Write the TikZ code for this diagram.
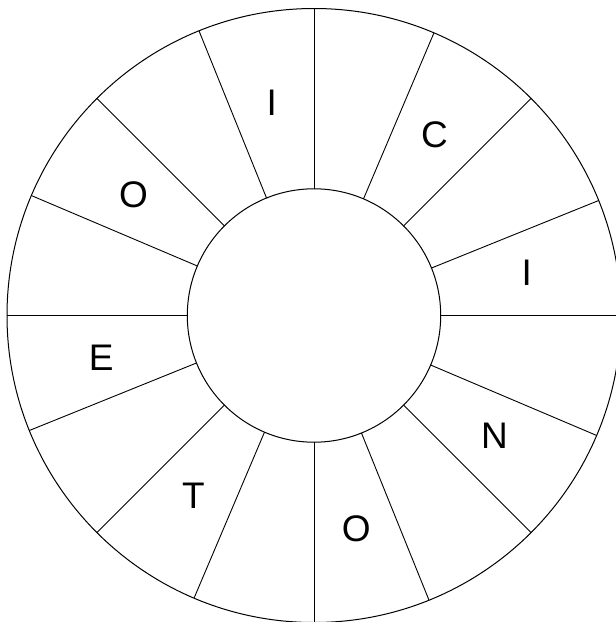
\documentclass[tikz,border=0pt]{standalone}
\usepackage{fontspec}
\setmainfont{Liberation Sans}
\usetikzlibrary{calc}
\begin{document}
\begin{tikzpicture}[x=1pt,y=1pt,
  ring/.style={circle,draw=black,line width=1pt,inner sep=0pt,outer sep=0pt},
  spoke/.style={draw=black,line width=0.9pt},
  letter/.style={inner sep=0pt,font=\fontsize{37}{40}\selectfont}]
\useasboundingbox (0,0) rectangle (616,-622);
\fill[white] (0,0) rectangle (616,-622);
\node[ring,minimum size=614pt] (outer) at (314,-315.5) {};
\node[ring,minimum size=253.4pt] (inner) at (314,-315.5) {};
\foreach \k in {0,...,15} {
  \pgfmathsetmacro{\a}{\k*22.5}
  \draw[spoke] (inner.\a) -- (outer.\a);
}
\foreach \t/\ang [count=\i] in {I/101.25, C/56.25, I/11.25, N/-33.75, O/-78.75, T/-123.75, E/-168.75, O/146.25} {
  \node[letter] (l\i) at ($(314,-315.5)+(\ang:217)$) {\t};
}
\end{tikzpicture}
\end{document}
